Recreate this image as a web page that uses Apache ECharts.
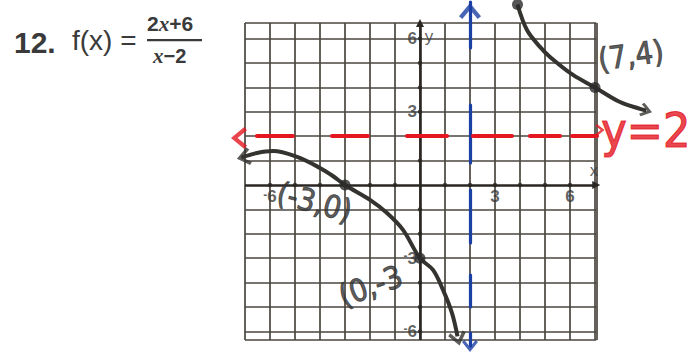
<!DOCTYPE html>
<html>
<head>
<meta charset="utf-8">
<script src="https://cdn.jsdelivr.net/npm/echarts@6/dist/echarts.min.js"></script>
<style>
  html, body { margin: 0; padding: 0; background: #ffffff; }
  #chart { width: 699px; height: 360px; }
</style>
</head>
<body>
<div id="chart"></div>
<script>
// Graph-paper rulings (integer lines) and the edges of the printed grid
const gridXs = [-7, -6, -5, -4, -3, -2, -1, 0, 1, 2, 3, 4, 5, 6, 7];
const gridYs = [-6, -5, -4, -3, -2, -1, 0, 1, 2, 3, 4, 5, 6];
const paperTop = 6.64;
const paperBottom = -6.35;
const paperLeft = -7;
const paperRight = 7.05;

// Printed tick labels
const xTickValues = [-6, 3, 6];
const yTickValues = [6, 3, -3, -6];
const axisDotXs = [-6, -5, -4, -3, -2, -1, 1, 2, 3, 4, 5, 6];
const axisDotYs = [-6, -5, -4, -3, -2, -1, 1, 2, 3, 4, 5, 6];

// Asymptotes of f(x) = (2x+6)/(x-2)
const verticalAsymptote = 2;   // x = 2
const horizontalAsymptote = 2; // y = 2

// Sketched branches of the graph
const leftBranch = [
  [-7.15, 1.12], [-6.52, 1.31], [-5.88, 1.39], [-4.92, 1.15], [-4.0, 0.70],
  [-3.5, 0.38], [-3, 0], [-2.0, -0.61], [-1.32, -1.15], [-0.68, -1.84],
  [0, -3], [0.52, -3.48], [0.92, -4.30], [1.28, -5.25], [1.50, -6.20]
];
const rightBranch = [
  [3.9, 7.4], [4.28, 6.35], [4.8, 5.66], [5.2, 5.25], [6.12, 4.51],
  [7, 4], [8.0, 3.4], [8.8, 3.12], [9.05, 3.05]
];

// Plotted points and their handwritten coordinates
const keyPoints = [
  { x: -3, y: 0, text: '(-3,0)' },
  { x: 0, y: -3, text: '(0,-3' },
  { x: 7, y: 4, text: '(7,4)' },
  { x: 3.9, y: 7.4, text: '' }
];

const chevron = 'path://M0,12 L10,0 L20,12 L17,14.5 L10,6 L3,14.5 Z';
const ink = '#353330';
const rule = '#4a463f';
const red = '#e4161f';
const blue = '#1b3fa3';
const hand = "'DejaVu Sans Condensed', 'DejaVu Sans', sans-serif";
const print = "'Liberation Sans', Arial, sans-serif";

const chart = echarts.init(document.getElementById('chart'), null, { renderer: 'svg' });

const vRules = gridXs.map(x => ({ coords: [[x, paperBottom], [x, paperTop]] }));
vRules.push({ coords: [[paperRight, paperBottom], [paperRight, paperTop]] });
const hRules = gridYs.filter(y => y !== 0).map(y => ({ coords: [[paperLeft, y], [paperRight, y]] }));
hRules.push({ coords: [[paperLeft, paperTop], [paperRight, paperTop]] });
hRules.push({ coords: [[paperLeft, paperBottom], [paperRight, paperBottom]] });

const handLabels = {
  '(-3,0)': { offset: [-25, 24], rotate: -15 },
  '(0,-3': { offset: [-56, 9], rotate: 20 },
  '(7,4)': { offset: [40, -27], rotate: 8 }
};

// printed minus is a short raised dash
const tickText = v => (v < 0 ? '{m|-}' + Math.abs(v) : String(v));
const tickRich = { m: { fontFamily: print, fontWeight: 'bold', fontSize: 12, color: '#3a3a3a', padding: [0, 0, 4, 0] } };

const option = {
  backgroundColor: '#ffffff',
  animation: false,
  grid: { left: 0, right: 0, top: 0, bottom: 0 },
  xAxis: { type: 'value', min: -16.8, max: 11.16, show: false },
  yAxis: { type: 'value', min: -7.172, max: 7.582, show: false },
  graphic: [
    { type: 'text', left: 14, top: 27,
      style: { text: '12.', font: "bold 30px 'Liberation Sans', Arial, sans-serif", fill: '#3a3a3a' } },
    { type: 'text', left: 72, top: 26,
      style: { text: 'f(x) =', font: "28px 'Liberation Sans', Arial, sans-serif", fill: '#3a3a3a' } },
    { type: 'text', left: 147, top: 13,
      style: {
        text: '2{i|x}+6', font: "bold 21px 'Liberation Sans', Arial, sans-serif", fill: '#3a3a3a',
        rich: { i: { fontStyle: 'italic', fontWeight: 'bold', fontSize: 21, fontFamily: "'Liberation Serif', serif", fill: '#3a3a3a' } }
      } },
    { type: 'rect', shape: { x: 147, y: 39, width: 55, height: 2.2 }, style: { fill: '#3a3a3a' } },
    { type: 'text', left: 153, top: 45,
      style: {
        text: '{i|x}\u22122', font: "bold 20px 'Liberation Sans', Arial, sans-serif", fill: '#3a3a3a',
        rich: { i: { fontStyle: 'italic', fontWeight: 'bold', fontSize: 21, fontFamily: "'Liberation Serif', serif", fill: '#3a3a3a' } }
      } }
  ],
  series: [
    // graph paper
    { type: 'lines', coordinateSystem: 'cartesian2d', silent: true, z: 1,
      symbol: 'none', lineStyle: { color: rule, width: 1.7, opacity: 1 }, data: vRules },
    { type: 'lines', coordinateSystem: 'cartesian2d', silent: true, z: 1,
      symbol: 'none', lineStyle: { color: rule, width: 1.7, opacity: 1 }, data: hRules },
    // coordinate axes with arrowheads
    { type: 'lines', coordinateSystem: 'cartesian2d', silent: true, z: 2,
      symbol: ['none', 'triangle'], symbolSize: 8,
      lineStyle: { color: '#2a2723', width: 2.6, opacity: 1 },
      data: [
        { coords: [[paperLeft, 0], [paperRight, 0]] },
        { coords: [[0, paperBottom], [0, paperTop]] }
      ] },
    // tick dots along the axes
    { type: 'scatter', silent: true, z: 2, symbolSize: 4.5, itemStyle: { color: '#2a2723' },
      data: axisDotXs.map(x => [x, 0]).concat(axisDotYs.map(y => [0, y])) },
    // printed tick labels
    { type: 'scatter', silent: true, z: 3, symbolSize: 0,
      label: { show: true, position: 'bottom', distance: 3, formatter: p => tickText(p.value[0]),
        fontFamily: print, fontWeight: 'bold', fontSize: 17, color: '#3a3a3a', rich: tickRich },
      data: xTickValues.map(x => [x, 0]) },
    { type: 'scatter', silent: true, z: 3, symbolSize: 0,
      label: { show: true, position: 'left', distance: 3, formatter: p => tickText(p.value[1]),
        fontFamily: print, fontWeight: 'bold', fontSize: 17, color: '#3a3a3a', rich: tickRich },
      data: yTickValues.map(y => [0, y]) },
    // axis names
    { type: 'scatter', silent: true, z: 3, symbolSize: 0,
      label: { show: true, position: 'inside', formatter: p => p.name,
        fontFamily: print, fontSize: 17, color: '#3a3a3a' },
      data: [{ name: 'x', value: [6.96, 0.6] }, { name: 'y', value: [0.36, 6.08] }] },
    // vertical asymptote x = 2
    { type: 'lines', coordinateSystem: 'cartesian2d', silent: true, z: 4, symbol: 'none',
      lineStyle: { color: blue, width: 3.2, opacity: 1, type: [46, 57, 58, 27, 53, 32, 32, 26, 30, 40], cap: 'round' },
      data: [{ coords: [[verticalAsymptote, 7.5], [verticalAsymptote, -6.6]] }] },
    // horizontal asymptote y = 2
    { type: 'lines', coordinateSystem: 'cartesian2d', silent: true, z: 4, symbol: 'none',
      lineStyle: { color: red, width: 4.2, opacity: 1, type: [36, 39, 36, 39, 40, 26, 39, 18, 30, 12, 25, 100], cap: 'round' },
      data: [{ coords: [[-6.52, horizontalAsymptote], [7.08, horizontalAsymptote]] }] },
    // label of the horizontal asymptote
    { type: 'scatter', silent: true, z: 5, symbolSize: 0,
      label: { show: true, position: 'right', distance: 0, formatter: 'y=2',
        fontFamily: hand, fontSize: 48, color: red, textBorderColor: red, textBorderWidth: 1.2, offset: [0, -6] },
      data: [[7.25, horizontalAsymptote]] },
    // the two branches of the graph
    { type: 'line', smooth: 0.35, showSymbol: false, silent: true, z: 6,
      lineStyle: { color: ink, width: 4 }, data: leftBranch },
    { type: 'line', smooth: 0.35, showSymbol: false, silent: true, z: 6,
      lineStyle: { color: ink, width: 4 }, data: rightBranch },
    // plotted points with handwritten coordinates
    { type: 'scatter', silent: true, z: 7, symbolSize: 11, itemStyle: { color: '#2b2b2b' },
      data: keyPoints.map(p => {
        const o = handLabels[p.text] || { offset: [0, 0], rotate: 0 };
        return {
          value: [p.x, p.y],
          label: { show: p.text !== '', position: 'inside', formatter: p.text,
            offset: o.offset, rotate: o.rotate, fontFamily: hand, fontSize: 31,
            color: '#333333', textBorderColor: '#333333', textBorderWidth: 0.9 }
        };
      }) },
    // arrowheads
    { type: 'scatter', silent: true, z: 8, symbol: chevron,
      data: [
        { value: [-7.05, 1.14], symbolRotate: 102, symbolSize: [18, 14], itemStyle: { color: ink } },
        { value: [1.52, -6.3], symbolRotate: 193, symbolSize: [18, 14], itemStyle: { color: ink } },
        { value: [9.05, 3.05], symbolRotate: -106, symbolSize: [14, 12], itemStyle: { color: ink } },
        { value: [verticalAsymptote, 7.13], symbolRotate: 0, symbolSize: [22, 16], itemStyle: { color: blue } },
        { value: [verticalAsymptote, -6.6], symbolRotate: 180, symbolSize: [16, 12], itemStyle: { color: blue } },
        { value: [-7.24, 1.93], symbolRotate: 90, symbolSize: [22, 16], itemStyle: { color: red } },
        { value: [7.2, 2.25], symbolRotate: -90, symbolSize: [12, 9], itemStyle: { color: red } }
      ] }
  ]
};

chart.setOption(option);
</script>
</body>
</html>
